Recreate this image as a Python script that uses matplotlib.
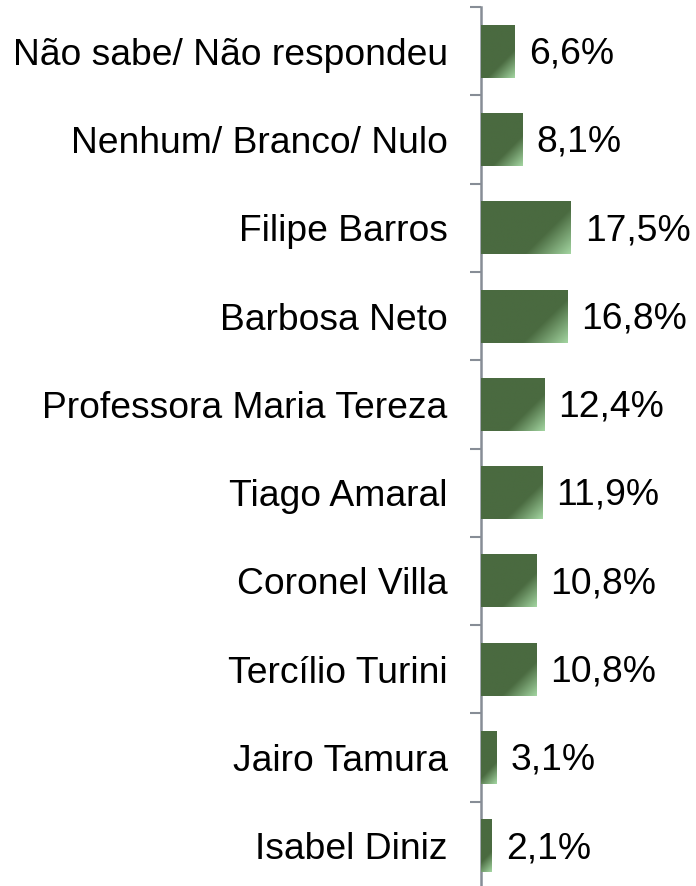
import numpy as np
import matplotlib.pyplot as plt
from matplotlib.colors import to_rgb

candidatos = ["Não sabe/ Não respondeu", "Nenhum/ Branco/ Nulo", "Filipe Barros",
              "Barbosa Neto", "Professora Maria Tereza", "Tiago Amaral",
              "Coronel Villa", "Tercílio Turini", "Jairo Tamura", "Isabel Diniz"]
valores = [6.6, 8.1, 17.5, 16.8, 12.4, 11.9, 10.8, 10.8, 3.1, 2.1]
rotulos = ["6,6%", "8,1%", "17,5%", "16,8%", "12,4%", "11,9%",
           "10,8%", "10,8%", "3,1%", "2,1%"]

plt.rcParams['font.family'] = ['Liberation Sans', 'DejaVu Sans']

W, H = 696, 886
fig = plt.figure(figsize=(W / 100, H / 100), dpi=100)
ax_left, ax_top, ax_bot = 481, 7, 890
ax = fig.add_axes([ax_left / W, (H - ax_bot) / H, 1 - ax_left / W, (ax_bot - ax_top) / H])

px_per_unit = 5.14
ax.set_xlim(0, (W - ax_left) / px_per_unit)
ax.set_ylim(len(valores) - 0.5, -0.5)

escuro = np.array(to_rgb("#4a6a40"))
claro = np.array(to_rgb("#a2d4a0"))

y = np.arange(len(valores))
barh_h = 0.6
bars = ax.barh(y, valores, height=barh_h, color="#4a6a40", zorder=2)

row_px = (ax_bot - ax_top) / len(valores)
for bar, v, yy in zip(bars, valores, y):
    w_px = v * px_per_unit
    h_px = barh_h * row_px
    nx, ny = max(int(w_px), 2), max(int(h_px), 2)
    xs = np.linspace(0, w_px, nx)
    ys = np.linspace(0, h_px, ny)
    X, Y = np.meshgrid(xs, ys)
    t = (X + Y) / (w_px + h_px)
    t = np.clip((t - 0.68) / 0.32, 0, 1)[..., None]
    img = escuro * (1 - t) + claro * t
    im = ax.imshow(img, extent=[0, v, yy + barh_h / 2, yy - barh_h / 2],
                   aspect='auto', interpolation='bilinear', zorder=3)
    im.set_clip_path(bar)

for v, yy, txt in zip(valores, y, rotulos):
    ax.annotate(txt, (v, yy), xytext=(10, -2), textcoords='offset points',
                va='center', ha='left', fontsize=26.8, color='black')

ax.set_yticks(y)
ax.set_yticklabels(candidatos, fontsize=26.8)
ax.tick_params(axis='y', which='major', length=0, pad=24)
ax.set_yticks(np.arange(-0.5, len(valores)), minor=True)
ax.tick_params(axis='y', which='minor', length=8, width=1.5, color='#878d96')
ax.set_xticks([])
for s in ['top', 'right', 'bottom']:
    ax.spines[s].set_visible(False)
ax.spines['left'].set_color('#878d96')
ax.spines['left'].set_linewidth(1.8)
ax.patch.set_alpha(0)

fig.savefig("out.png", dpi=100)
